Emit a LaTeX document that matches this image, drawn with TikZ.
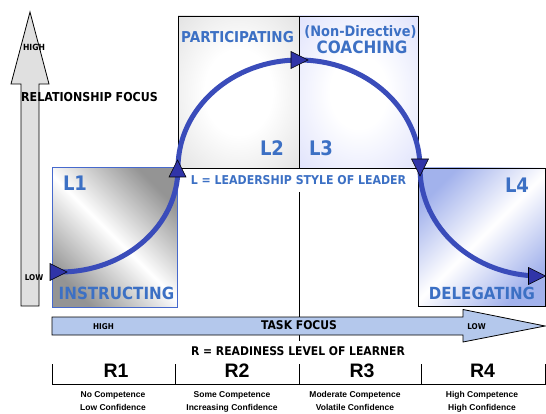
\documentclass[tikz,border=0pt]{standalone}
\usepackage{fontspec}
\usepackage{graphicx}
\setmainfont{DejaVu Sans}
\newfontfamily\labelfont{DejaVu Sans}
\newfontfamily\arialfont{Liberation Sans}
\newcommand\setfs[1]{\fontsize{#1}{#1}\selectfont}
% bold label face, narrowed to a Tahoma-like width
\newcommand\nx[1]{\scalebox{0.9}[1]{#1}}

\definecolor{lblue}{RGB}{60,112,196}
\definecolor{curveblue}{RGB}{58,76,186}
\definecolor{headblue}{RGB}{48,52,168}
\definecolor{taskblue}{RGB}{180,200,236}
\definecolor{relgray}{RGB}{224,224,224}
\definecolor{delblue}{RGB}{162,178,236}
\definecolor{instborder}{RGB}{70,105,205}
\definecolor{grayedge}{RGB}{208,208,208}
\definecolor{graycorner}{RGB}{178,178,178}
\definecolor{lavedge}{RGB}{210,214,250}
\definecolor{lavcorner}{RGB}{186,193,244}

% soft glows: white centre fading to the edges and corners
\pgfdeclareradialshading{grayglow}{\pgfpoint{0bp}{0bp}}{%
  color(0bp)=(white); color(14bp)=(white); color(50bp)=(grayedge); color(71bp)=(graycorner)}
\pgfdeclareradialshading{lavglow}{\pgfpoint{0bp}{0bp}}{%
  color(0bp)=(white); color(12bp)=(white); color(46bp)=(lavedge); color(71bp)=(lavcorner)}

\tikzset{
  lab/.style={text=lblue, font=\labelfont\bfseries\setfs{#1}, inner sep=0pt, anchor=base},
  blk/.style={text=black, font=\labelfont\bfseries\setfs{#1}, inner sep=0pt, anchor=base},
  rlab/.style={text=black, font=\arialfont\bfseries\setfs{#1}, inner sep=0pt, anchor=base},
  boxline/.style={line width=0.9pt},
  headmark/.pic={\draw[fill=headblue, line width=0.6pt, line join=miter]
    (0,0) -- (-17,8.5) -- (-17,-8.5) -- cycle;}
}

\begin{document}
\begin{tikzpicture}[x=1pt,y=1pt]
\useasboundingbox (0,0) rectangle (546,-414);

% style quadrants
\shade[top color=black!42, bottom color=black!42, middle color=white, shading angle=-45]
  (52,-168) rectangle (177,-307);
\draw[instborder, line width=1pt] (52,-168) rectangle (177,-307);
\shade[shading=grayglow] (178,-16) rectangle (299,-168);
\shade[shading=lavglow] (299,-16) rectangle (418,-168);
\shade[top color=delblue, bottom color=delblue, middle color=white, shading angle=45]
  (418,-168) rectangle (545,-306);
\draw[boxline] (178,-16) rectangle (299,-168);
\draw[boxline] (299,-16) rectangle (418,-168);
\draw[boxline] (418,-168) rectangle (545,-306);

% centre divider
\draw[boxline] (299,-192) -- (299,-341);

% relationship axis
\draw[fill=relgray, line width=0.8pt, line join=miter]
  (21,-306) -- (21,-84) -- (11,-84) -- (30,-12) -- (49,-84) -- (39,-84) -- (39,-306) -- cycle;

% task axis
\draw[fill=taskblue, line width=0.8pt, line join=miter]
  (52,-317) -- (463,-317) -- (463,-309.5) -- (545,-326) -- (463,-342) -- (463,-335) -- (52,-335) -- cycle;

% readiness scale
\draw[boxline] (52,-364) -- (52,-384) -- (545,-384) -- (545,-364);
\draw[boxline] (175.6,-364) -- (175.6,-384);
\draw[boxline] (299.6,-364) -- (299.6,-384);
\draw[boxline] (421.6,-364) -- (421.6,-384);

% development curve
\draw[curveblue, line width=5pt]
  (60,-272) arc[start angle=-90, end angle=0, x radius=118pt, y radius=104pt]
  arc[start angle=180, end angle=0, x radius=121pt, y radius=108pt]
  arc[start angle=180, end angle=270, x radius=120pt, y radius=108pt] -- (536,-276);
\pic at (67,-272) {headmark};
\pic[rotate=90] at (177.5,-160) {headmark};
\pic at (308,-60) {headmark};
\pic[rotate=-90] at (420,-176) {headmark};
\pic at (545.5,-276) {headmark};

% quadrant labels
\node[lab=20] (l1) at (75,-191) {\nx{L1}};
\node[lab=20] (l2) at (272,-156) {\nx{L2}};
\node[lab=20] (l3) at (321,-156) {\nx{L3}};
\node[lab=20] (l4) at (517,-193) {\nx{L4}};
\node[lab=15] (part) at (237.5,-43) {\nx{PARTICIPATING}};
\node[lab=14.4] (nondir) at (360.5,-37) {\nx{(Non-Directive)}};
\node[lab=17] (coach) at (362,-54) {\nx{COACHING}};
\node[lab=16.8] (instr) at (116.5,-299) {\nx{INSTRUCTING}};
\node[lab=16.7] (deleg) at (482,-299) {\nx{DELEGATING}};
\node[lab=12.2] (lkey) at (298.5,-184.5) {\nx{L = LEADERSHIP STYLE OF LEADER}};

% axis labels
\node[blk=12.3] (relf) at (89.5,-102) {\nx{RELATIONSHIP FOCUS}};
\node[blk=8.5] (relhigh) at (34,-51) {\nx{HIGH}};
\node[blk=8] (rellow) at (34,-280) {\nx{LOW}};
\node[blk=12] (taskf) at (299,-329.5) {\nx{TASK FOCUS}};
\node[blk=8] (taskhigh) at (103.5,-329) {\nx{HIGH}};
\node[blk=8] (tasklow) at (476.5,-329) {\nx{LOW}};
\node[blk=12] (rkey) at (298,-355.5) {\nx{R = READINESS LEVEL OF LEARNER}};

% readiness levels
\node[rlab=19.5] (r1) at (116,-377.5) {R1};
\node[rlab=19.5] (r2) at (237,-377.5) {R2};
\node[rlab=19.5] (r3) at (362,-377.5) {R3};
\node[rlab=19.5] (r4) at (482.5,-377.5) {R4};
\node[rlab=8.5] (c1a) at (113,-397.5) {No Competence};
\node[rlab=8.5] (c1b) at (113,-410.5) {Low Confidence};
\node[rlab=8.5] (c2a) at (232,-397.5) {Some Competence};
\node[rlab=8.5] (c2b) at (232,-410.5) {Increasing Confidence};
\node[rlab=8.5] (c3a) at (355,-397.5) {Moderate Competence};
\node[rlab=8.5] (c3b) at (355,-410.5) {Volatile Confidence};
\node[rlab=8.5] (c4a) at (482,-397.5) {High Competence};
\node[rlab=8.5] (c4b) at (482,-410.5) {High Confidence};
\end{tikzpicture}
\end{document}
